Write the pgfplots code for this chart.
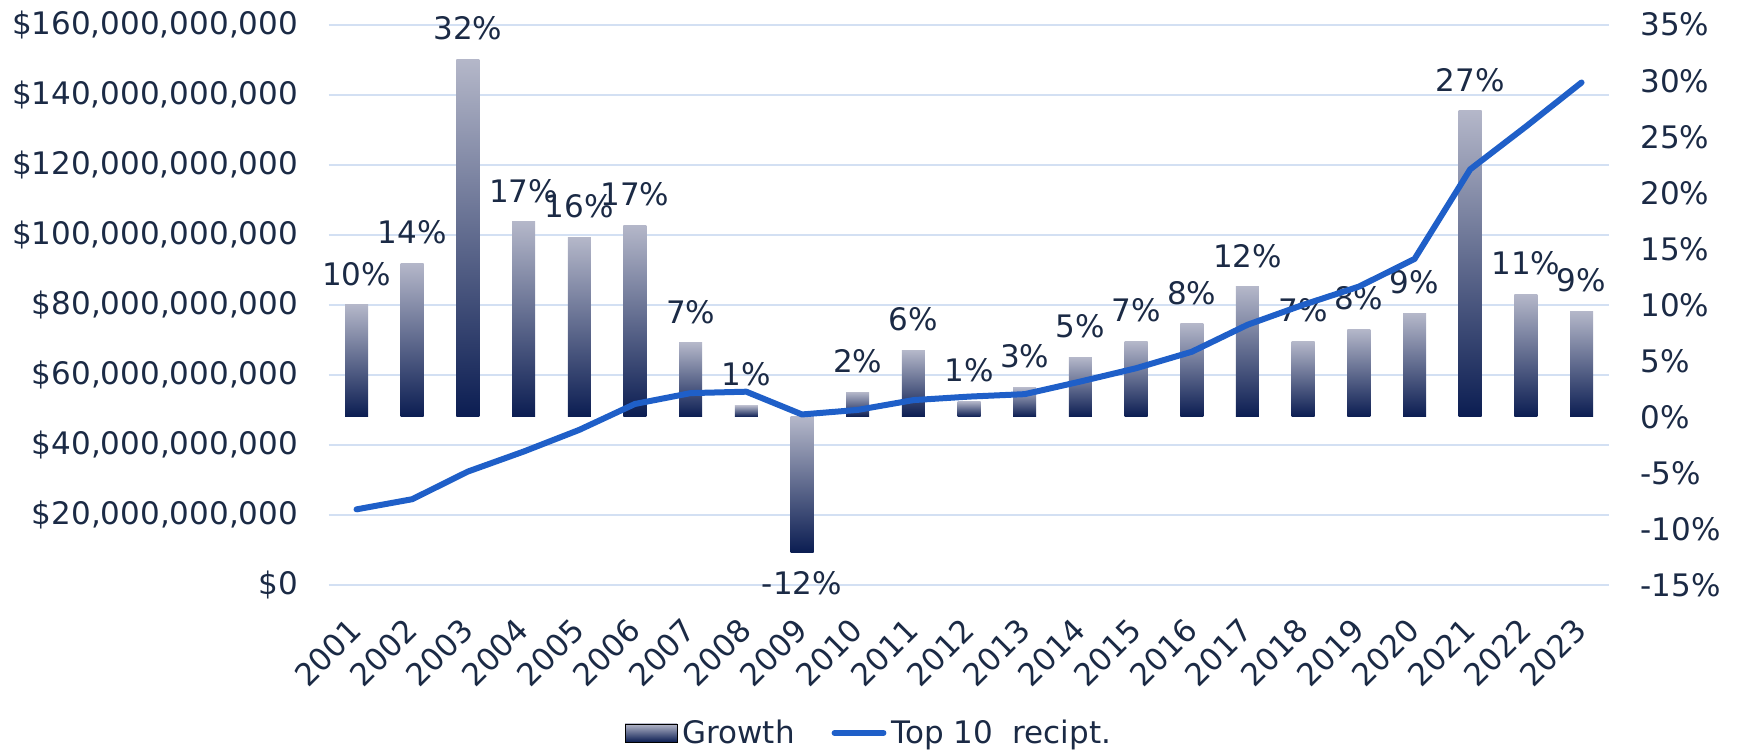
\documentclass[border=0pt]{standalone}
\usepackage{fontspec}
\setmainfont{DejaVu Sans}
\usepackage{pgfplots}
\pgfplotsset{compat=1.18}
\definecolor{gridc}{HTML}{D3E0F3}
\definecolor{barlight}{HTML}{B4B7C9}
\definecolor{bardark}{HTML}{0B1D52}
\definecolor{linec}{HTML}{1F5FC8}
\definecolor{txt}{HTML}{1B2A45}
\newcommand{\lfont}{\fontsize{15.5}{18}\selectfont}
\pgfplotsset{
  base/.style={
    width=640.35pt, height=280.15pt, scale only axis,
    at={(0,0)}, anchor=south west,
    xmin=-0.5, xmax=22.5,
    axis line style={draw=none},
    major tick style={draw=none}, minor tick style={draw=none},
    font=\lfont,
    every tick label/.append style={text=txt, font=\lfont},
    clip=false,
  },
  gbar/.style={ybar, bar width=11.5pt, bar shift=0pt, draw=none,
    top color=barlight, bottom color=bardark,
    point meta=explicit symbolic,
    nodes near coords={\pgfplotspointmeta\%},
    every node near coord/.append style={text=txt, font=\lfont, inner xsep=0pt, inner ysep=9.5pt, anchor=south}},
  gbarneg/.style={gbar, every node near coord/.append style={anchor=north}},
}
\begin{document}
\begin{tikzpicture}
\useasboundingbox (-164.35pt,-83pt) rectangle (704.15pt,292.5pt);
% axis 1: grid, left labels, year labels
\begin{axis}[base,
  ymin=0, ymax=160,
  ytick={0,20,...,160},
  yticklabels={{\$0},{\$20,000,000,000},{\$40,000,000,000},{\$60,000,000,000},{\$80,000,000,000},{\$100,000,000,000},{\$120,000,000,000},{\$140,000,000,000},{\$160,000,000,000}},
  ymajorgrids, major grid style={gridc, line width=0.9pt},
  yticklabel style={anchor=east, inner sep=0pt, xshift=-15.1pt},
  xtick={0,1,...,22},
  xticklabels={2001,2002,2003,2004,2005,2006,2007,2008,2009,2010,2011,2012,2013,2014,2015,2016,2017,2018,2019,2020,2021,2022,2023},
  xticklabel style={xshift=-4.5pt, yshift=-15.5pt, rotate=45, anchor=north east, inner sep=0pt},
]
\end{axis}
% axis 2: growth bars, right labels
\begin{axis}[base,
  ymin=-15, ymax=35,
  ytick={-15,-10,...,35},
  yticklabels={{-15\%},{-10\%},{-5\%},{0\%},{5\%},{10\%},{15\%},{20\%},{25\%},{30\%},{35\%}},
  yticklabel pos=right,
  yticklabel style={anchor=west, inner sep=0pt, xshift=15.3pt},
  xtick=\empty,
]
\addplot[gbar] coordinates {(0,10.0) [10]};
\addplot[gbar] coordinates {(1,13.7) [14]};
\addplot[gbar] coordinates {(2,31.9) [32]};
\addplot[gbar] coordinates {(3,17.4) [17]};
\addplot[gbar] coordinates {(4,16.0) [16]};
\addplot[gbar] coordinates {(5,17.1) [17]};
\addplot[gbar] coordinates {(6,6.6) [7]};
\addplot[gbar] coordinates {(7,1.0) [1]};
\addplot[gbarneg] coordinates {(8,-12.1) [-12]};
\addplot[gbar] coordinates {(9,2.2) [2]};
\addplot[gbar] coordinates {(10,5.9) [6]};
\addplot[gbar] coordinates {(11,1.4) [1]};
\addplot[gbar] coordinates {(12,2.6) [3]};
\addplot[gbar] coordinates {(13,5.3) [5]};
\addplot[gbar] coordinates {(14,6.7) [7]};
\addplot[gbar] coordinates {(15,8.3) [8]};
\addplot[gbar] coordinates {(16,11.6) [12]};
\addplot[gbar] coordinates {(17,6.7) [7]};
\addplot[gbar] coordinates {(18,7.8) [8]};
\addplot[gbar] coordinates {(19,9.2) [9]};
\addplot[gbar] coordinates {(20,27.3) [27]};
\addplot[gbar] coordinates {(21,10.9) [11]};
\addplot[gbar] coordinates {(22,9.4) [9]};
\end{axis}
% axis 3: top 10 recipients line + legend
\begin{axis}[base,
  ymin=0, ymax=160,
  hide axis,
  legend style={at={(axis description cs:0.423,-0.264)}, anchor=center,
    draw=none, fill=none, legend columns=-1, inner sep=0pt,
    font=\lfont, text=txt,
    nodes={inner xsep=2.5pt, inner ysep=0pt, text=txt},
    /tikz/every even column/.append style={column sep=16pt}},
]
\addlegendimage{legend image code/.code={\shade[top color=barlight,bottom color=bardark] (0pt,-4.5pt) rectangle (26pt,4.5pt);}}
\addlegendentry{Growth}
\addplot[linec, line width=3pt, line cap=round, line join=round,
  legend image code/.code={\draw[linec, line width=2.8pt, line cap=round] (1.4pt,0pt) -- (26pt,0pt);}]
  coordinates {
(0,21.6) (1,24.5) (2,32.4) (3,38.1) (4,44.3) (5,51.7) (6,54.8) (7,55.2)
(8,48.7) (9,50.0) (10,52.8) (11,53.8) (12,54.5) (13,58.1) (14,61.9) (15,66.6)
(16,74.3) (17,80.0) (18,85.2) (19,93.1) (20,118.7) (21,130.9) (22,143.5)
};
\addlegendentry{Top 10~~recipt.}
\end{axis}
\end{tikzpicture}
\end{document}
